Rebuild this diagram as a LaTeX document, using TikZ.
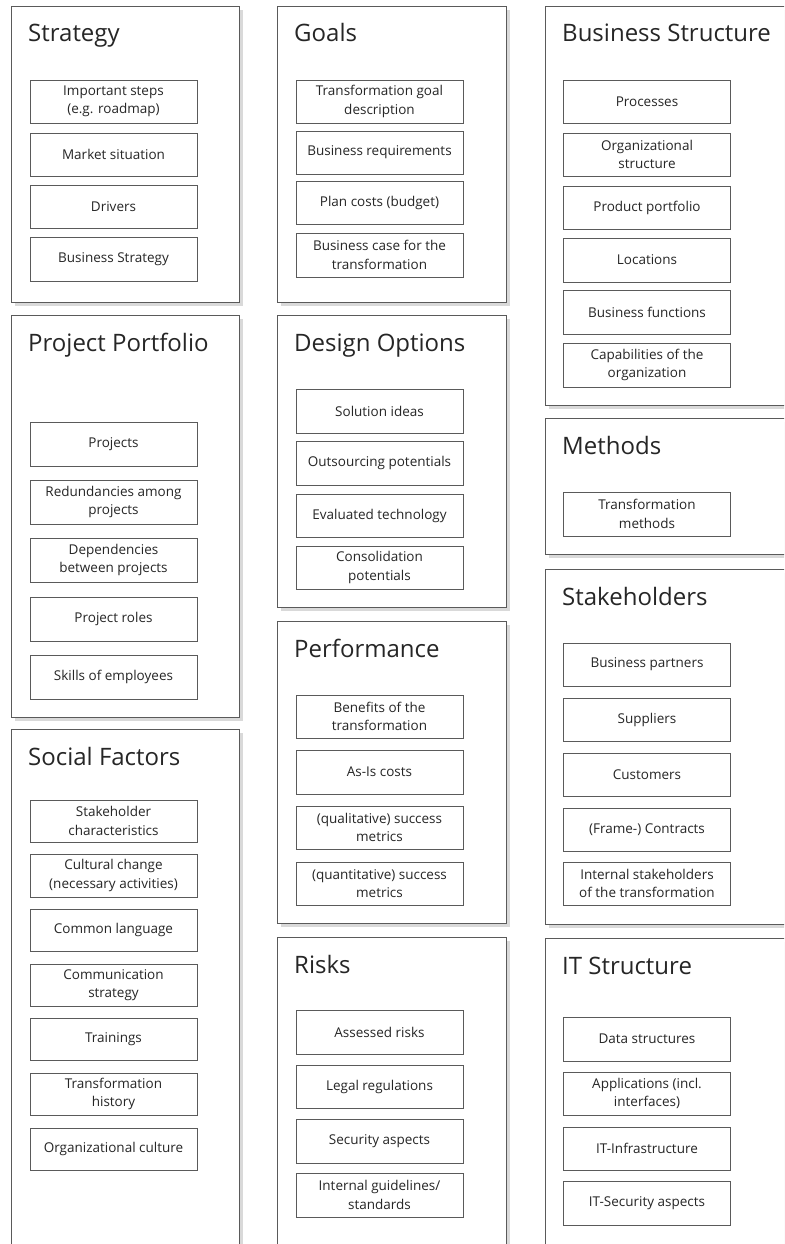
\documentclass[tikz,border=0pt]{standalone}
\usepackage{fontspec}
\setmainfont{Open Sans}
\definecolor{edge}{HTML}{5A5A5A}
\definecolor{shade}{HTML}{D9D9D9}
\definecolor{ink}{HTML}{262626}
\tikzset{
  itm/.style={draw=edge, line width=0.9pt, fill=white, inner sep=0pt, align=center,
    minimum width=167, text=ink, font=\fontsize{13.5}{18.3}\selectfont},
  ttl/.style={anchor=base west, inner sep=0pt, text=ink, font=\fontsize{24}{28}\selectfont},
  frame/.style={draw=edge, line width=0.9pt, fill=white},
  shadowbox/.style={fill=shade, draw=none}
}
% \panel{name}{x1}{y1}{x2}{y2}{title}
\newcommand\panel[6]{%
  \fill[shadowbox] (#2+4,#3+4) rectangle (#4+4,#5+4);
  \draw[frame] (#2,#3) rectangle (#4,#5);
  \node[ttl] (#1) at (#2+17,#3+36) {#6};
}
% \itembox{name}{cx}{y1}{y2}{text}
\newcommand\itembox[5]{%
  \node[itm, minimum height={#4-#3}] (#1) at (#2,{(#3+#4)/2}) {#5};
}
\begin{document}
\begin{tikzpicture}[x=1pt,y=-1pt]
\useasboundingbox (0,0) rectangle (784,1244);
\fill[white] (0,0) rectangle (784,1244);
\clip (0,0) rectangle (784,1244);
% column 1
\panel{strategy}{11}{6}{239}{302}{Strategy}
\itembox{s1}{113.5}{80}{123}{Important steps\\(e.g. roadmap)}
\itembox{s2}{113.5}{133}{176}{Market situation}
\itembox{s3}{113.5}{185}{228}{Drivers}
\itembox{s4}{113.5}{237}{281}{Business Strategy}
\panel{portfolio}{11}{315}{239}{717}{Project Portfolio}
\itembox{p1}{113.5}{422}{466}{Projects}
\itembox{p2}{113.5}{480}{524}{Redundancies among\\projects}
\itembox{p3}{113.5}{538}{582}{Dependencies\\between projects}
\itembox{p4}{113.5}{597}{641}{Project roles}
\itembox{p5}{113.5}{655}{699}{Skills of employees}
\panel{social}{11}{729}{239}{1270}{Social Factors}
\itembox{f1}{113.5}{800}{842}{Stakeholder\\characteristics}
\itembox{f2}{113.5}{854}{897}{Cultural change\\(necessary activities)}
\itembox{f3}{113.5}{909}{951}{Common language}
\itembox{f4}{113.5}{964}{1006}{Communication\\strategy}
\itembox{f5}{113.5}{1018}{1060}{Trainings}
\itembox{f6}{113.5}{1073}{1115}{Transformation\\history}
\itembox{f7}{113.5}{1128}{1170}{Organizational culture}
% column 2
\panel{goals}{277}{6}{506}{302}{Goals}
\itembox{g1}{379.5}{80}{123}{Transformation goal\\description}
\itembox{g2}{379.5}{131}{174}{Business requirements}
\itembox{g3}{379.5}{181}{224}{Plan costs (budget)}
\itembox{g4}{379.5}{233}{277}{Business case for the\\transformation}
\panel{design}{277}{315}{506}{607}{Design Options}
\itembox{d1}{379.5}{389}{433}{Solution ideas}
\itembox{d2}{379.5}{441}{485}{Outsourcing potentials}
\itembox{d3}{379.5}{494}{537}{Evaluated technology}
\itembox{d4}{379.5}{546}{589}{Consolidation\\potentials}
\panel{performance}{277}{621}{506}{923}{Performance}
\itembox{e1}{379.5}{695}{738}{Benefits of the\\transformation}
\itembox{e2}{379.5}{750}{794}{As-Is costs}
\itembox{e3}{379.5}{806}{849}{(qualitative) success\\metrics}
\itembox{e4}{379.5}{862}{905}{(quantitative) success\\metrics}
\panel{risks}{277}{937}{506}{1270}{Risks}
\itembox{r1}{379.5}{1010}{1054}{Assessed risks}
\itembox{r2}{379.5}{1065}{1108}{Legal regulations}
\itembox{r3}{379.5}{1119}{1163}{Security aspects}
\itembox{r4}{379.5}{1173}{1217}{Internal guidelines/\\standards}
% column 3
\panel{structure}{545}{6}{810}{405}{Business Structure}
\itembox{b1}{647}{80}{123}{Processes}
\itembox{b2}{647}{133}{176}{Organizational\\structure}
\itembox{b3}{647}{186}{229}{Product portfolio}
\itembox{b4}{647}{238}{282}{Locations}
\itembox{b5}{647}{290}{334}{Business functions}
\itembox{b6}{647}{343}{387}{Capabilities of the\\organization}
\panel{methods}{545}{418}{810}{554}{Methods}
\itembox{m1}{647}{492}{536}{Transformation\\methods}
\panel{stakeholders}{545}{569}{810}{924}{Stakeholders}
\itembox{k1}{647}{643}{686}{Business partners}
\itembox{k2}{647}{698}{741}{Suppliers}
\itembox{k3}{647}{753}{796}{Customers}
\itembox{k4}{647}{808}{851}{(Frame-) Contracts}
\itembox{k5}{647}{862}{905}{Internal stakeholders\\of the transformation}
\panel{itstructure}{545}{938}{810}{1270}{IT Structure}
\itembox{i1}{647}{1017}{1061}{Data structures}
\itembox{i2}{647}{1072}{1115}{Applications (incl.\\interfaces)}
\itembox{i3}{647}{1127}{1170}{IT-Infrastructure}
\itembox{i4}{647}{1181}{1225}{IT-Security aspects}
\end{tikzpicture}
\end{document}
